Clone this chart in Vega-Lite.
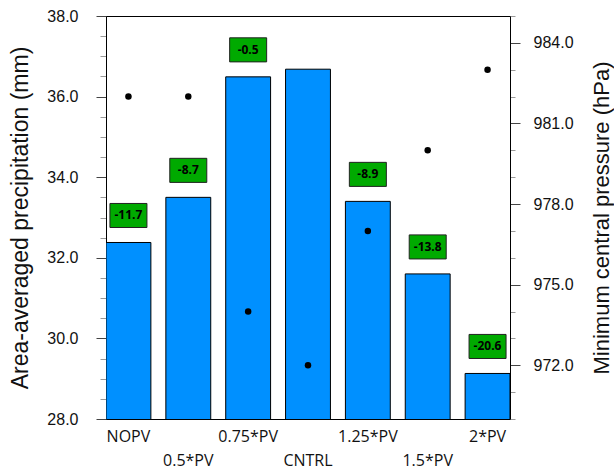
{
  "$schema": "https://vega.github.io/schema/vega-lite/v6.json",
  "width": 404,
  "height": 403,
  "autosize": "none",
  "padding": {"left": 106, "top": 16, "right": 104, "bottom": 50},
  "background": "white",
  "config": {"view": {"stroke": "black", "strokeWidth": 1}},
  "data": {
    "values": [
      {"case": "NOPV", "precip": 32.38, "pressure": 982, "change": "-11.7"},
      {"case": "0.5*PV", "precip": 33.5, "pressure": 982, "change": "-8.7"},
      {"case": "0.75*PV", "precip": 36.49, "pressure": 974, "change": "-0.5"},
      {"case": "CNTRL", "precip": 36.68, "pressure": 972, "change": null},
      {"case": "1.25*PV", "precip": 33.4, "pressure": 977, "change": "-8.9"},
      {"case": "1.5*PV", "precip": 31.6, "pressure": 980, "change": "-13.8"},
      {"case": "2*PV", "precip": 29.13, "pressure": 983, "change": "-20.6"}
    ]
  },
  "encoding": {
    "x": {
      "field": "case",
      "type": "ordinal",
      "sort": null,
      "scale": {"paddingInner": 0.25, "paddingOuter": 0},
      "axis": {
        "title": null,
        "ticks": false,
        "domain": false,
        "labelAngle": 0,
        "labelFont": "Open Sans",
        "labelFontSize": 16,
        "labelColor": "#111",
        "labelPadding": 9,
        "labelLineHeight": 24,
        "labelBaseline": "top",
        "labelExpr": "indexof(['0.5*PV','CNTRL','1.5*PV'], datum.value) >= 0 ? ['', datum.label] : datum.label"
      }
    }
  },
  "layer": [
    {
      "encoding": {
        "y": {
          "field": "precip",
          "type": "quantitative",
          "scale": {"domain": [28, 38], "nice": false, "zero": false},
          "axis": {
            "values": [28, 28.5, 29, 29.5, 30, 30.5, 31, 31.5, 32, 32.5, 33, 33.5, 34, 34.5, 35, 35.5, 36, 36.5, 37, 37.5, 38],
            "labelExpr": "datum.value % 2 == 0 ? format(datum.value, '.1f') : ''",
            "tickSize": {"condition": {"test": "datum.value % 2 != 0", "value": 6}, "value": 10},
            "tickColor": {"condition": {"test": "datum.value % 2 != 0", "value": "#999"}, "value": "#444"},
            "domainColor": "black",
            "grid": false,
            "labelOverlap": false,
            "labelFlush": false,
            "labelFont": "Liberation Sans",
            "labelFontSize": 16,
            "labelColor": "#111",
            "labelPadding": 18,
            "title": "Area-averaged precipitation (mm)",
            "titleFont": "Liberation Sans",
            "titleFontSize": 23,
            "titleFontWeight": "normal",
            "titleColor": "#111",
            "titlePadding": 14
          }
        }
      },
      "layer": [
        {
          "mark": {"type": "bar", "fill": "#0090FF", "stroke": "black", "strokeWidth": 1, "clip": true}
        },
        {
          "transform": [{"filter": "isValid(datum.change)"}],
          "mark": {
            "type": "point",
            "shape": "M-1,-0.65L1,-0.65L1,0.65L-1,0.65Z",
            "filled": true,
            "fill": "#00AA00",
            "stroke": "#222",
            "strokeWidth": 1,
            "size": 1369,
            "opacity": 1,
            "yOffset": -27
          }
        },
        {
          "transform": [{"filter": "isValid(datum.change)"}],
          "mark": {
            "type": "text",
            "dy": -27,
            "font": "Open Sans",
            "fontWeight": "bold",
            "fontSize": 12,
            "color": "black",
            "baseline": "middle"
          },
          "encoding": {"text": {"field": "change", "type": "nominal"}}
        }
      ]
    },
    {
      "mark": {"type": "point", "shape": "circle", "filled": true, "color": "black", "size": 42, "opacity": 1},
      "encoding": {
        "y": {
          "field": "pressure",
          "type": "quantitative",
          "scale": {"domain": [970, 985], "nice": false, "zero": false},
          "axis": {
            "orient": "right",
            "values": [970, 971, 972, 973, 974, 975, 976, 977, 978, 979, 980, 981, 982, 983, 984, 985],
            "labelExpr": "(datum.value - 972) % 3 == 0 ? format(datum.value, '.1f') : ''",
            "tickSize": {"condition": {"test": "(datum.value - 972) % 3 != 0", "value": 5}, "value": 10},
            "tickColor": {"condition": {"test": "(datum.value - 972) % 3 != 0", "value": "#999"}, "value": "#444"},
            "domainColor": "black",
            "grid": false,
            "labelOverlap": false,
            "labelFlush": false,
            "labelFont": "Liberation Sans",
            "labelFontSize": 16,
            "labelColor": "#111",
            "labelPadding": 13,
            "title": "Minimum central pressure (hPa)",
            "titleAngle": 270,
            "titleFont": "Liberation Sans",
            "titleFontSize": 22,
            "titleFontWeight": "normal",
            "titleColor": "#111",
            "titlePadding": 40
          }
        }
      }
    }
  ],
  "resolve": {"scale": {"y": "independent"}}
}
